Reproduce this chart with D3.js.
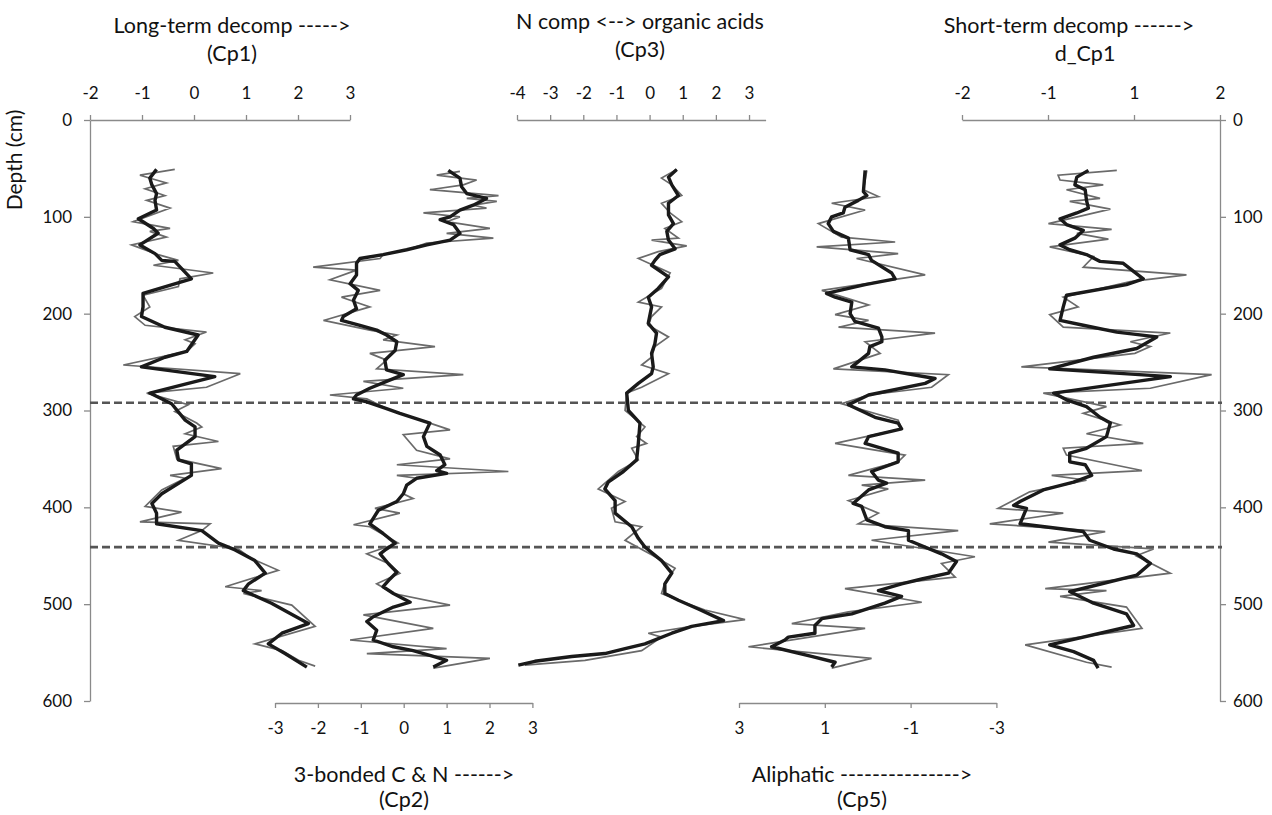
<!DOCTYPE html>
<html><head><meta charset="utf-8">
<script src="https://cdn.jsdelivr.net/npm/d3@7"></script>
<style>
body{margin:0;background:#fff}
text{font-family:Lato,"Open Sans",sans-serif;fill:#111}
</style>
</head><body>
<svg id="c" width="1272" height="815"></svg>
<script>
// ---------- data (depth cm, component score) ----------
const depthTicks = [0,100,200,300,400,500,600];
const cp1Ticks = [-2,-1,0,1,2,3];
const cp2Ticks = [-3,-2,-1,0,1,2,3];
const cp3Ticks = [-4,-3,-2,-1,0,1,2,3];
const cp5Ticks = [3,1,-1,-3];
const dcp1Ticks = [-2,-2/3,2/3,2];
const dcp1TickLabels = ["-2","-1","1","2"];
const boundaryDepths = [292, 441];

const cp1Raw = [[51,-0.37],[57,-1.04],[65,-0.53],[71,-0.94],[78,-0.56],[83,-0.91],[91,-0.46],[105,-1.17],[112,-0.46],[115,-0.85],[121,-0.53],[129,-1.20],[139,-0.69],[145,-0.30],[150,-0.78],[158,0.37],[164,-0.27],[172,-0.30],[181,-0.98],[193,-0.85],[203,-1.14],[212,-0.94],[219,0.24],[227,-0.17],[231,0.02],[239,-0.14],[253,-1.36],[262,0.89],[276,0.24],[282,-0.91],[294,-0.11],[301,-0.37],[313,0.05],[317,0.15],[324,-0.17],[332,0.47],[337,-0.40],[350,-0.33],[360,0.53],[367,-0.46],[370,-0.17],[382,-0.62],[399,-0.94],[405,-0.24],[415,-1.04],[417,0.31],[424,0.15],[434,-0.30],[443,0.85],[453,1.11],[465,1.62],[482,0.60],[486,1.30],[489,0.95],[501,1.88],[523,2.33],[541,1.17],[548,1.69],[558,2.01],[564,2.33]];
const cp1Smooth = [[51,-0.72],[60,-0.85],[67,-0.81],[76,-0.72],[83,-0.75],[93,-0.72],[102,-1.07],[112,-0.78],[117,-0.69],[129,-1.04],[138,-0.75],[145,-0.62],[146,-0.37],[164,-0.05],[179,-0.98],[193,-0.98],[203,-1.01],[214,-0.56],[222,0.08],[239,-0.14],[245,-0.56],[255,-1.01],[265,0.40],[282,-0.85],[293,-0.43],[310,-0.17],[317,0.02],[327,0.02],[341,-0.33],[351,-0.30],[355,-0.05],[367,-0.05],[386,-0.62],[396,-0.81],[406,-0.72],[417,-0.72],[424,0.15],[437,0.47],[444,0.79],[455,1.17],[468,1.37],[479,1.05],[486,0.95],[499,1.49],[520,2.20],[530,1.69],[541,1.43],[551,1.75],[565,2.17]];

const cp2Raw = [[53,1.31],[57,0.77],[62,1.70],[67,1.39],[72,0.61],[78,2.21],[81,1.47],[84,2.17],[88,1.62],[91,1.93],[96,0.46],[100,1.31],[105,1.00],[112,2.01],[117,1.00],[122,2.09],[127,0.54],[134,0.07],[139,-0.48],[143,-0.55],[152,-2.11],[155,-1.10],[165,-1.72],[176,-0.55],[183,-1.45],[193,-0.79],[207,-1.87],[217,-0.79],[222,-0.16],[227,-0.48],[234,0.73],[241,-0.79],[248,-0.40],[257,-0.63],[263,1.39],[270,-0.94],[277,-0.01],[284,-1.72],[288,-0.86],[298,-0.40],[303,-0.09],[313,0.61],[320,1.08],[325,-0.01],[341,0.30],[350,1.08],[356,-0.16],[363,2.44],[367,-0.16],[370,0.30],[377,0.07],[386,-0.01],[391,0.22],[401,-0.67],[406,-0.09],[418,-1.17],[420,-0.79],[437,-0.13],[448,-0.86],[458,-0.36],[468,-0.09],[479,-0.63],[489,-0.24],[501,1.08],[511,-0.94],[525,0.69],[537,-1.25],[546,1.00],[551,-0.86],[556,2.01],[566,0.69]];
const cp2Smooth = [[52,1.04],[60,1.31],[69,1.35],[76,1.47],[81,1.93],[88,1.62],[93,1.31],[100,1.08],[103,0.85],[108,1.16],[117,1.31],[124,1.08],[129,0.54],[134,0.07],[139,-0.48],[143,-1.02],[148,-1.10],[160,-1.10],[169,-1.25],[176,-1.06],[186,-1.17],[195,-1.10],[203,-1.41],[207,-1.45],[212,-1.02],[217,-0.63],[222,-0.40],[229,-0.16],[238,-0.20],[248,-0.44],[258,-0.40],[263,-0.01],[270,-0.40],[277,-0.79],[284,-1.10],[288,-1.17],[291,-0.86],[298,-0.40],[303,-0.09],[313,0.61],[327,0.46],[337,0.54],[346,0.85],[356,0.96],[362,0.77],[365,1.00],[370,0.30],[377,0.07],[386,-0.01],[394,-0.16],[403,-0.59],[417,-0.79],[427,-0.48],[437,-0.20],[443,-0.40],[448,-0.55],[458,-0.36],[467,-0.16],[474,-0.32],[482,-0.48],[489,-0.24],[498,0.15],[503,-0.24],[513,-0.71],[518,-0.86],[527,-0.63],[537,-0.71],[544,-0.24],[548,0.22],[554,0.69],[558,1.00],[565,0.69]];

const cp3Raw = [[51,0.82],[60,0.36],[67,0.67],[78,0.97],[86,0.36],[96,0.62],[105,0.97],[112,0.46],[122,0.87],[124,0.06],[130,1.12],[136,0.26],[143,-0.34],[158,0.62],[174,0.36],[188,-0.34],[193,0.36],[203,0.06],[212,-0.04],[224,0.57],[234,0.16],[245,0.06],[253,-0.24],[262,0.57],[276,-0.24],[282,-0.69],[300,-0.74],[317,-0.14],[327,-0.39],[334,-0.09],[339,-0.54],[351,-0.34],[363,-0.94],[381,-1.55],[394,-0.74],[401,-1.15],[415,-1.04],[420,-0.24],[434,-0.74],[449,0.06],[463,0.77],[478,0.46],[489,0.36],[496,0.87],[506,1.67],[516,2.88],[523,1.27],[530,-0.04],[534,0.36],[548,-0.24],[558,-1.95],[563,-3.76]];
const cp3Smooth = [[51,0.82],[59,0.57],[67,0.67],[78,0.87],[86,0.57],[98,0.57],[107,0.72],[115,0.52],[124,0.57],[133,0.77],[139,0.31],[145,0.16],[150,0.06],[162,0.57],[174,0.26],[183,-0.04],[193,0.06],[210,-0.04],[220,0.21],[231,0.16],[241,0.06],[255,0.11],[262,0.06],[272,-0.34],[282,-0.69],[300,-0.64],[313,-0.29],[334,-0.34],[351,-0.39],[363,-0.79],[374,-1.25],[381,-1.35],[393,-1.04],[406,-1.04],[420,-0.54],[432,-0.34],[441,-0.14],[448,0.11],[455,0.36],[468,0.67],[479,0.46],[489,0.46],[496,0.87],[505,1.47],[517,2.23],[523,1.27],[530,0.67],[541,-0.14],[546,-0.74],[551,-1.35],[554,-2.35],[559,-3.46],[563,-3.96]];

const cp5Raw = [[52,0.02],[72,0.10],[79,-0.25],[86,0.84],[93,0.06],[107,1.15],[121,0.61],[126,-0.64],[131,1.19],[138,-0.71],[143,0.26],[160,-1.34],[176,1.07],[191,-0.02],[201,0.76],[207,-0.02],[214,0.68],[220,-1.57],[229,0.06],[241,-0.29],[257,0.80],[263,-1.88],[276,-1.49],[284,-0.02],[293,0.61],[310,-0.71],[319,-0.79],[334,0.76],[346,-0.87],[353,-0.71],[367,0.45],[372,-1.34],[377,0.14],[381,-0.48],[393,0.45],[406,-0.25],[417,0.22],[424,-2.11],[434,-0.09],[451,-2.50],[458,-1.72],[472,-2.04],[484,0.53],[498,-1.26],[508,0.45],[520,1.77],[525,0.06],[544,2.78],[556,-0.09],[566,0.84]];
const cp5Smooth = [[52,0.06],[74,0.10],[78,0.02],[83,0.22],[90,0.53],[96,0.57],[100,0.84],[107,0.92],[115,0.80],[122,0.45],[134,0.41],[139,-0.02],[145,-0.09],[158,-0.56],[164,-0.64],[170,0.06],[179,0.96],[183,0.76],[188,0.37],[200,0.41],[208,0.30],[215,-0.25],[224,-0.33],[229,-0.33],[234,-0.05],[241,-0.02],[255,0.37],[258,-0.40],[267,-1.57],[272,-1.34],[284,-0.02],[294,0.45],[307,-0.17],[313,-0.71],[319,-0.79],[327,-0.02],[334,0.06],[344,-0.71],[353,-0.71],[363,-0.09],[372,-0.25],[375,-0.44],[382,-0.02],[396,0.34],[399,0.14],[413,0.02],[420,-0.40],[424,-0.95],[434,-0.95],[448,-1.72],[456,-2.07],[468,-1.88],[474,-1.26],[479,-0.79],[486,-0.25],[492,-0.79],[499,-0.40],[510,0.37],[515,1.07],[522,1.23],[530,1.23],[534,1.85],[537,1.93],[544,2.24],[554,1.31],[560,0.76],[565,0.84]];

const dcp1Raw = [[52,0.40],[57,-0.51],[62,-0.48],[67,0.19],[72,-0.38],[81,0.14],[84,-0.33],[92,0.30],[107,-0.66],[113,0.32],[117,-0.22],[123,0.27],[131,-0.64],[141,0.04],[152,-0.12],[160,1.48],[167,0.61],[183,-0.43],[193,-0.20],[201,-0.64],[214,-0.43],[220,1.23],[229,0.61],[234,0.92],[241,0.68],[255,-1.08],[263,1.87],[277,0.92],[282,-0.74],[296,0.24],[303,-0.12],[315,0.45],[324,-0.07],[334,0.81],[339,-0.43],[346,-0.38],[362,0.79],[367,-0.61],[372,-0.07],[384,-0.95],[401,-1.44],[406,-0.43],[417,-1.57],[425,0.22],[436,-0.66],[443,0.97],[450,0.70],[468,1.23],[484,-0.71],[486,0.24],[492,-0.48],[503,0.55],[525,0.79],[542,-1.02],[560,-0.07],[565,0.32]];
const dcp1Smooth = [[52,-0.04],[59,-0.22],[67,-0.25],[72,-0.09],[83,-0.07],[91,-0.04],[96,-0.22],[102,-0.48],[108,-0.38],[114,-0.12],[122,-0.25],[129,-0.48],[134,-0.33],[139,-0.07],[146,0.14],[148,0.50],[164,0.81],[170,0.55],[181,-0.38],[193,-0.43],[207,-0.48],[212,-0.12],[219,0.40],[224,1.02],[236,0.71],[245,0.04],[257,-0.64],[265,1.23],[282,-0.58],[289,-0.38],[296,-0.07],[307,0.14],[313,0.30],[327,0.24],[339,-0.07],[344,-0.33],[353,-0.33],[356,-0.09],[367,0.01],[374,-0.27],[382,-0.74],[394,-1.10],[398,-1.20],[401,-1.00],[417,-1.10],[425,-0.12],[434,-0.02],[443,0.35],[448,0.71],[458,0.92],[470,0.71],[482,-0.02],[487,-0.33],[499,0.04],[510,0.55],[522,0.66],[542,-0.64],[549,-0.27],[558,0.04],[566,0.11]];

// ---------- drawing ----------
const svg = d3.select("#c");
const y = d3.scaleLinear().domain([0,600]).range([120,701]);
const x1 = d3.scaleLinear().domain([-2,3]).range([90,350]);
const x2 = d3.scaleLinear().domain([-3,3]).range([275,532.4]);
const x3 = d3.scaleLinear().domain([-4,3.5]).range([517,765.6]);
const x5 = d3.scaleLinear().domain([3,-3]).range([739,996.4]);
const xd = d3.scaleLinear().domain([-2,2]).range([962,1220]);

const hyph = d => String(d);
const axisColor = "#8a8a8a";
function styleAxis(g){
  g.select(".domain").attr("stroke",axisColor).attr("stroke-width",1.3);
  g.selectAll(".tick line").attr("stroke",axisColor).attr("stroke-width",1.3);
  g.selectAll(".tick text").attr("font-size",17).attr("fill","#111")
    .style("font-family","Lato, 'Open Sans', sans-serif");
}

// depth axes
svg.append("g").attr("transform","translate(90,0)")
  .call(d3.axisLeft(y).tickValues(depthTicks).tickFormat(hyph).tickSizeInner(6).tickSizeOuter(0).tickPadding(12))
  .call(styleAxis);
svg.append("g").attr("transform","translate(1220,0)")
  .call(d3.axisRight(y).tickValues(depthTicks).tickFormat(hyph).tickSizeInner(6).tickSizeOuter(0).tickPadding(7))
  .call(styleAxis);

// top axes
svg.append("g").attr("transform","translate(0,120)")
  .call(d3.axisTop(x1).tickValues(cp1Ticks).tickFormat(hyph).tickSizeInner(5).tickSizeOuter(0).tickPadding(16))
  .call(styleAxis);
svg.append("g").attr("transform","translate(0,120)")
  .call(d3.axisTop(x3).tickValues(cp3Ticks).tickFormat(hyph).tickSizeInner(5).tickSizeOuter(0).tickPadding(16))
  .call(styleAxis);
svg.append("g").attr("transform","translate(0,120)")
  .call(d3.axisTop(xd).tickValues(dcp1Ticks).tickFormat((d,i)=>dcp1TickLabels[i]).tickSizeInner(5).tickSizeOuter(0).tickPadding(16))
  .call(styleAxis);

// bottom axes
svg.append("g").attr("transform","translate(0,703)")
  .call(d3.axisBottom(x2).tickValues(cp2Ticks).tickFormat(hyph).tickSizeInner(5).tickSizeOuter(0).tickPadding(14))
  .call(styleAxis);
svg.append("g").attr("transform","translate(0,703)")
  .call(d3.axisBottom(x5).tickValues(cp5Ticks).tickFormat(hyph).tickSizeInner(5).tickSizeOuter(0).tickPadding(14))
  .call(styleAxis);

// boundary dashed lines
svg.append("g").selectAll("line").data(boundaryDepths).join("line")
  .attr("x1",90).attr("x2",1222)
  .attr("y1",d=>y(d)).attr("y2",d=>y(d))
  .attr("stroke","#555").attr("stroke-width",2.7).attr("stroke-dasharray","8,4");

// profiles
const profiles = [
  {raw:cp1Raw, smooth:cp1Smooth, x:x1},
  {raw:cp2Raw, smooth:cp2Smooth, x:x2},
  {raw:cp3Raw, smooth:cp3Smooth, x:x3},
  {raw:cp5Raw, smooth:cp5Smooth, x:x5},
  {raw:dcp1Raw, smooth:dcp1Smooth, x:xd}
];
const gLines = svg.append("g");
profiles.forEach(p=>{
  const line = d3.line().x(d=>p.x(d[1])).y(d=>y(d[0]));
  gLines.append("path").datum(p.raw).attr("d",line)
    .attr("fill","none").attr("stroke","#6a6a6a").attr("stroke-width",1.7).attr("stroke-linejoin","miter");
});
profiles.forEach(p=>{
  const line = d3.line().x(d=>p.x(d[1])).y(d=>y(d[0]));
  gLines.append("path").datum(p.smooth).attr("d",line)
    .attr("fill","none").attr("stroke","#1a1a1a").attr("stroke-width",3.4).attr("stroke-linejoin","round");
});

// titles
const titles = [
  {t:"Long-term decomp ----->", x:232, y:33},
  {t:"(Cp1)", x:232, y:61},
  {t:"N comp <--> organic acids", x:640, y:29},
  {t:"(Cp3)", x:640, y:57},
  {t:"Short-term decomp ------>", x:1069, y:33},
  {t:"d_Cp1", x:1085, y:61},
  {t:"3-bonded C & N ------>", x:404, y:782},
  {t:"(Cp2)", x:404, y:807},
  {t:"Aliphatic --------------->", x:862, y:782},
  {t:"(Cp5)", x:862, y:807}
];
svg.append("g").selectAll("text").data(titles).join("text")
  .attr("x",d=>d.x).attr("y",d=>d.y).attr("text-anchor","middle")
  .attr("font-size",21.5).text(d=>d.t);
svg.append("text").attr("transform","translate(22,160) rotate(-90)")
  .attr("text-anchor","middle").attr("font-size",21).text("Depth (cm)");
</script>
</body></html>
